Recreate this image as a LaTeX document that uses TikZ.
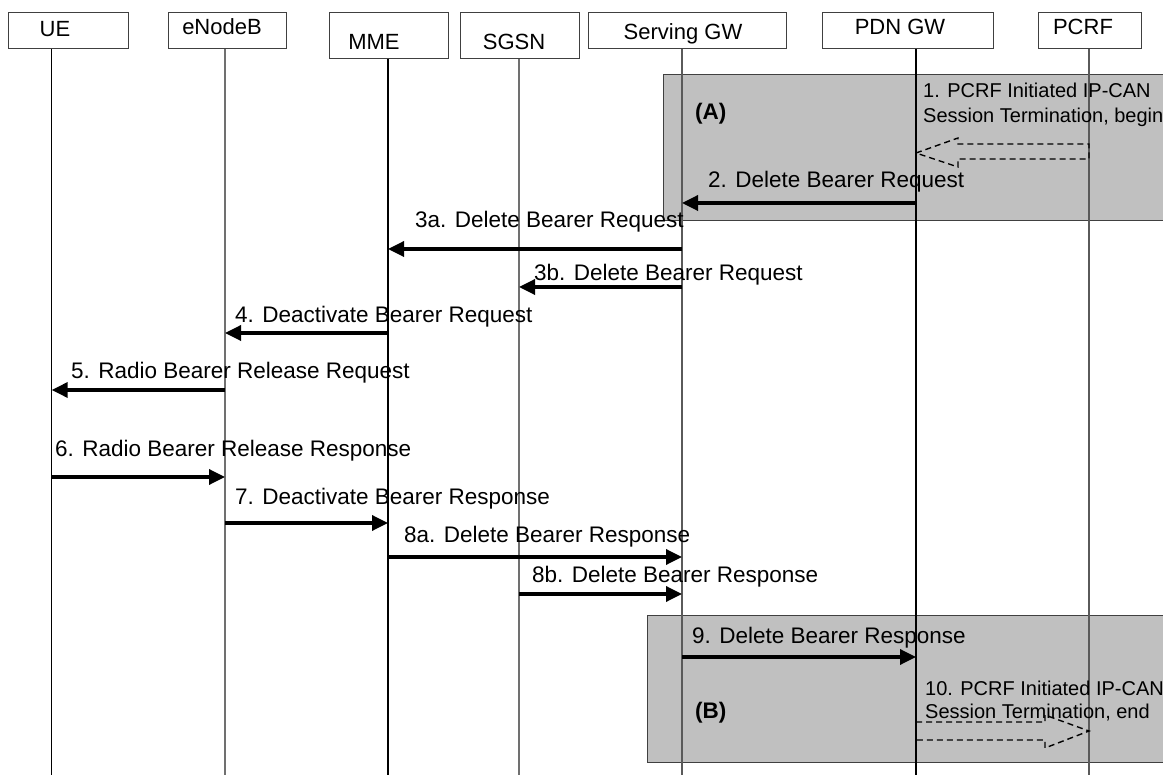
\documentclass[tikz,border=0pt]{standalone}
\usepackage{fontspec}
\setmainfont{Liberation Sans}
\usetikzlibrary{arrows.meta}
\definecolor{shade}{HTML}{C0C0C0}
\definecolor{frame}{HTML}{404040}
\definecolor{lifegray}{HTML}{707070}
\begin{document}
\begin{tikzpicture}[x=1pt,y=-1pt,
  every node/.style={font=\fontsize{22.5}{27}\selectfont, inner sep=0pt},
  hbox/.style={draw=frame, line width=1.1pt, fill=white, anchor=north west},
  htext/.style={anchor=base, font=\fontsize{22}{26}\selectfont},
  lbl/.style={anchor=base west},
  note/.style={anchor=base west, font=\fontsize{20}{24}\selectfont},
  life/.style={line width=1.3pt},
  msg/.style={line width=3.4pt, -{Triangle[length=16pt,width=15pt]}},
  region/.style={fill=shade, draw=frame, line width=1pt},
  blockarrow/.style={draw=black, line width=1.4pt, dash pattern=on 6pt off 4pt, line join=miter}]
\useasboundingbox (0,0) rectangle (1163,775);
\fill[white] (0,0) rectangle (1163,775);

% shaded procedure regions
\draw[region] (663,75) rectangle (1175,221);
\draw[region] (647,615) rectangle (1175,762);

% lifeline tops
\coordinate (lUE)   at (51.7,48.3);
\coordinate (lENB)  at (225,48.3);
\coordinate (lMME)  at (388,57.7);
\coordinate (lSGSN) at (519,57.7);
\coordinate (lSGW)  at (682,48.3);
\coordinate (lPDN)  at (916,48.3);
\coordinate (lPCRF) at (1089,48.3);
\coordinate (bottom) at (0,775);

% lifelines
\draw[life, black]    (lUE)   -- (lUE |- bottom);
\draw[life, lifegray] (lENB)  -- (lENB |- bottom);
\draw[life, black]    (lMME)  -- (lMME |- bottom);
\draw[life, lifegray] (lSGSN) -- (lSGSN |- bottom);
\draw[life, lifegray!80!black] (lSGW) -- (lSGW |- bottom);
\draw[life, black]    (lPDN)  -- (lPDN |- bottom);
\draw[life, lifegray!80!black] (lPCRF) -- (lPCRF |- bottom);

% header boxes
\node[hbox, minimum width=120pt, minimum height=36.6pt] (ue)   at (8,11.7) {};
\node[hbox, minimum width=118pt, minimum height=36.6pt] (enb)  at (168,11.7) {};
\node[hbox, minimum width=119pt, minimum height=46pt]   (mme)  at (329,11.7) {};
\node[hbox, minimum width=119pt, minimum height=46pt]   (sgsn) at (460,11.7) {};
\node[hbox, minimum width=198pt, minimum height=36.6pt] (sgw)  at (588,11.7) {};
\node[hbox, minimum width=171pt, minimum height=36.6pt] (pdn)  at (822,11.7) {};
\node[hbox, minimum width=103pt, minimum height=36.6pt] (pcrf) at (1038,11.7) {};

\node[htext] (tUE)   at (55,37)   {UE};
\node[htext] (tENB)  at (222,35)  {eNodeB};
\node[htext] (tMME)  at (374,50)  {MME};
\node[htext] (tSGSN) at (514,50)  {SGSN};
\node[htext] (tSGW)  at (683,40)  {Serving GW};
\node[htext] (tPDN)  at (900,35)  {PDN GW};
\node[htext] (tPCRF) at (1083,35) {PCRF};

% region labels
\node[lbl, font=\fontsize{22.5}{27}\selectfont\bfseries] (A) at (695,120) {(A)};
\node[lbl, font=\fontsize{22.5}{27}\selectfont\bfseries] (B) at (695,718) {(B)};

% step 1: dashed block arrow PCRF -> PDN GW
\node[note] (s1a) at (923,98)  {1. PCRF Initiated IP-CAN};
\node[note] (s1b) at (923,123) {Session Termination, begin};
\draw[blockarrow] (lPDN |- 0,153) -- (958,138) -- (958,144) -- (lPCRF |- 0,144)
  -- (lPCRF |- 0,159) -- (958,159) -- (958,167) -- cycle;

% messages
\node[lbl] (s2) at (708,188) {2. Delete Bearer Request};
\draw[msg] (lPDN |- 0,203) -- (lSGW |- 0,203);

\node[lbl] (s3a) at (415,228) {3a. Delete Bearer Request};
\draw[msg] (lSGW |- 0,249) -- (lMME |- 0,249);

\node[lbl] (s3b) at (534,281) {3b. Delete Bearer Request};
\draw[msg] (lSGW |- 0,287) -- (lSGSN |- 0,287);

\node[lbl] (s4) at (235,323) {4. Deactivate Bearer Request};
\draw[msg] (lMME |- 0,333) -- (lENB |- 0,333);

\node[lbl] (s5) at (71,379) {5. Radio Bearer Release Request};
\draw[msg] (lENB |- 0,390) -- (lUE |- 0,390);

\node[lbl] (s6) at (55,457) {6. Radio Bearer Release Response};
\draw[msg] (lUE |- 0,477) -- (lENB |- 0,477);

\node[lbl] (s7) at (235,505) {7. Deactivate Bearer Response};
\draw[msg] (lENB |- 0,523) -- (lMME |- 0,523);

\node[lbl] (s8a) at (404,543) {8a. Delete Bearer Response};
\draw[msg] (lMME |- 0,557) -- (lSGW |- 0,557);

\node[lbl] (s8b) at (532,583) {8b. Delete Bearer Response};
\draw[msg] (lSGSN |- 0,594) -- (lSGW |- 0,594);

\node[lbl] (s9) at (692,643) {9. Delete Bearer Response};
\draw[msg] (lSGW |- 0,657) -- (lPDN |- 0,657);

% step 10: dashed block arrow PDN GW -> PCRF
\node[note] (s10a) at (925,695) {10. PCRF Initiated IP-CAN};
\node[note] (s10b) at (925,718) {Session Termination, end};
\draw[blockarrow] (lPDN |- 0,722) -- (1045,722) -- (1045,715) -- (lPCRF |- 0,731)
  -- (1045,748) -- (1045,740) -- (lPDN |- 0,740) -- cycle;
\end{tikzpicture}
\end{document}
